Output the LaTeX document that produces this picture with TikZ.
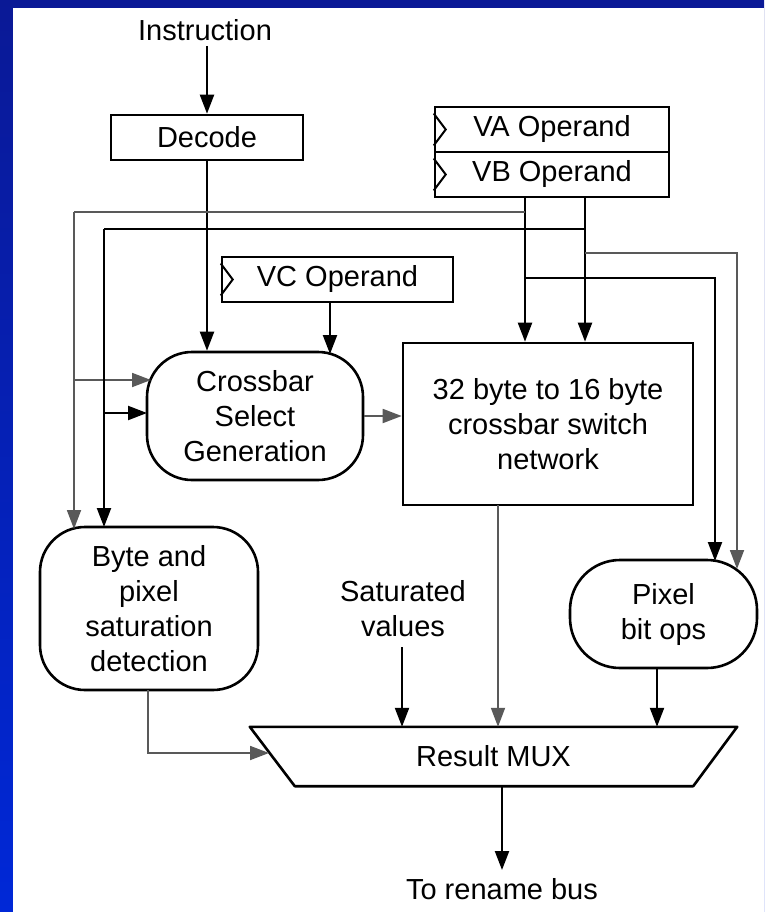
\documentclass[tikz,border=0pt]{standalone}
\usepackage{fontspec}
\setmainfont{Liberation Sans}
\usetikzlibrary{arrows.meta}
\definecolor{bgtop}{RGB}{10,25,150}
\definecolor{bgbot}{RGB}{0,40,215}
\begin{document}
\begin{tikzpicture}[x=1pt,y=-1pt,
  lbl/.style={font=\fontsize{29}{35}\selectfont, align=center, inner sep=0pt},
  box/.style={lbl, draw, line width=2.6pt},
  opbox/.style={box, minimum width=234pt, minimum height=45pt},
  wire/.style={line width=2.2pt},
  faint/.style={line width=1.8pt, black!65},
  tip/.style={-{Triangle[length=19pt,width=14pt]}},
  arr/.style={wire, tip},
  farr/.style={faint, tip}]
\useasboundingbox (0,0) rectangle (764,912);
\shade[top color=bgtop, bottom color=bgbot] (0,0) rectangle (764,912);
\fill[white] (13,8) rectangle (764,912);

% nodes
\node[lbl] (instr) at (205,30) {Instruction};
\node[box, minimum width=192pt, minimum height=45pt] (decode) at (207,137.5) {Decode};
\node[opbox] (va) at (552,129.5) {VA Operand};
\node[opbox] (vb) at (552,174.5) {VB Operand};
\node[opbox, minimum width=231pt] (vc) at (337.5,279.5) {VC Operand};
\node[box, rounded corners=45pt, minimum width=216pt, minimum height=128pt] (xsel) at (255,416) {Crossbar\\Select\\Generation};
\node[box, minimum width=290pt, minimum height=162pt] (xbar) at (548,424) {32 byte to 16 byte\\crossbar switch\\network};
\node[box, rounded corners=45pt, minimum width=218pt, minimum height=163pt] (bpsd) at (149,608.5) {Byte and\\pixel\\saturation\\detection};
\node[box, rounded corners=50pt, minimum width=187pt, minimum height=108pt] (pbo) at (663.5,614) {Pixel\\bit ops};
\node[lbl] (satv) at (403,609) {Saturated\\values};
\node[lbl, minimum width=487pt, minimum height=59pt] (mux) at (493.5,756.5) {Result MUX};
\node[lbl] (ren) at (502,889) {To rename bus};

% clock chevrons
\foreach \n in {va,vb,vc}
  \draw[line width=2pt] ([yshift=16pt]\n.west) -- ++(12,16) -- ++(-12,16);

% result mux trapezoid
\draw[line width=2.6pt, line join=round] (mux.north west) -- (mux.north east)
  -- ([xshift=-44pt]mux.south east) -- ([xshift=45pt]mux.south west) -- cycle;

% coordinates
\coordinate (i0) at (207,46);
\coordinate (aout) at (525,197);
\coordinate (bout) at (585,197);
\coordinate (a1) at (525,212);
\coordinate (a2) at (74,212);
\coordinate (a3) at (74,529);
\coordinate (a4) at (74,380);
\coordinate (a5) at (151,380);
\coordinate (b1) at (585,229);
\coordinate (b2) at (104,229);
\coordinate (b3) at (104,527);
\coordinate (b4) at (104,413);
\coordinate (b5) at (147,413);
\coordinate (c1) at (585,253);
\coordinate (c2) at (737,253);
\coordinate (c3) at (737,569);
\coordinate (d1) at (525,278);
\coordinate (d2) at (715,278);
\coordinate (d3) at (715,561);
\coordinate (e1) at (148,690);
\coordinate (e2) at (148,753);
\coordinate (e3) at (269,753);
\coordinate (vcx) at (330,302);
\coordinate (vcy) at (330,354);
\coordinate (xo) at (498,505);
\coordinate (po) at (657,668);
\coordinate (so) at (402,647);
\coordinate (mo) at (502,786);
\coordinate (rn) at (502,870);

% connectors
\draw[arr] (i0) -- (decode.north);
\draw[arr] (decode.south) -- (decode.south |- xsel.north);
\draw[arr] (vcx) -- (vcy);
\draw[arr] (aout) -- (aout |- xbar.north);
\draw[arr] (bout) -- (bout |- xbar.north);
\draw[faint] (a1) -- (a2);
\draw[farr] (a2) -- (a3);
\draw[farr] (a4) -- (a5);
\draw[wire] (b1) -- (b2);
\draw[arr] (b2) -- (b3);
\draw[arr] (b4) -- (b5);
\draw[farr] (c1) -- (c2) -- (c3);
\draw[arr] (d1) -- (d2) -- (d3);
\draw[farr] (xsel.east) -- (xsel.east -| xbar.west);
\draw[farr] (xo) -- (xo |- mux.north);
\draw[arr] (so) -- (so |- mux.north);
\draw[arr] (po) -- (po |- mux.north);
\draw[farr] (e1) -- (e2) -- (e3);
\draw[arr] (mo) -- (rn);
\end{tikzpicture}
\end{document}
